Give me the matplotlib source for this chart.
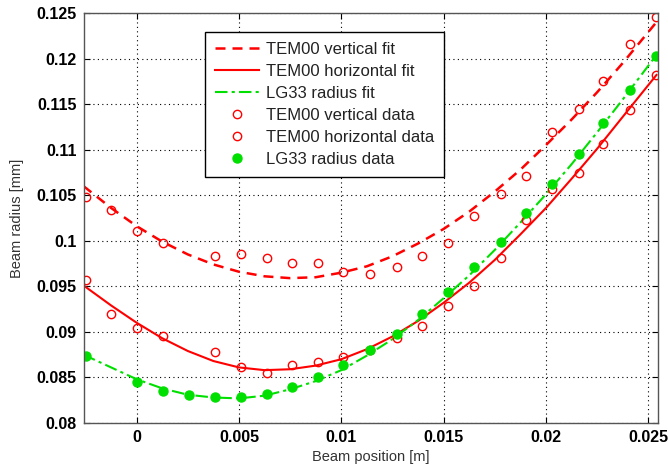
import matplotlib
matplotlib.use("Agg")
import matplotlib.pyplot as plt

plt.rcParams['font.family'] = ['Liberation Sans', 'DejaVu Sans']

# data points
x_vert = [-0.0025, -0.00125, 0.0, 0.00127, 0.00384, 0.0051, 0.00635, 0.0076, 0.00888, 0.0101,
          0.0114, 0.01273, 0.01395, 0.01519, 0.01647, 0.0178, 0.019, 0.0203, 0.0216, 0.0228, 0.0241, 0.0254]
y_vert = [0.1048, 0.1034, 0.1011, 0.0998, 0.0983, 0.0985, 0.0981, 0.0976, 0.0976, 0.0966,
          0.0964, 0.0971, 0.0983, 0.0998, 0.1027, 0.1051, 0.1071, 0.1119, 0.1145, 0.1175, 0.1216, 0.1246]

x_horz = [-0.0025, -0.00125, 0.0, 0.00127, 0.00384, 0.0051, 0.00635, 0.0076, 0.00888, 0.0101,
          0.0114, 0.01273, 0.01395, 0.01519, 0.01647, 0.0178, 0.019, 0.0203, 0.0216, 0.0228, 0.0241, 0.0254]
y_horz = [0.0957, 0.0920, 0.0904, 0.0895, 0.0878, 0.0861, 0.0855, 0.0864, 0.0867, 0.0872,
          0.0880, 0.0893, 0.0906, 0.0928, 0.0950, 0.0981, 0.1023, 0.1057, 0.1074, 0.1106, 0.1143, 0.1182]

x_lg = [-0.0025, 0.0, 0.00127, 0.00254, 0.00384, 0.0051, 0.00635, 0.0076, 0.00888, 0.0101,
        0.0114, 0.01273, 0.01395, 0.01519, 0.01647, 0.0178, 0.019, 0.0203, 0.0216, 0.0228, 0.0241, 0.0254]
y_lg = [0.0873, 0.0845, 0.0835, 0.0831, 0.0828, 0.0829, 0.0832, 0.0840, 0.0850, 0.0864,
        0.0880, 0.0898, 0.0920, 0.0944, 0.0971, 0.0999, 0.1030, 0.1062, 0.1095, 0.1129, 0.1165, 0.1203]

# fit curves
x_fit = [-0.0026, -0.00125, 0.0, 0.00125, 0.0025, 0.00375, 0.005, 0.00625, 0.0075, 0.00875, 0.01,
         0.01125, 0.0125, 0.01375, 0.015, 0.01625, 0.0175, 0.01875, 0.02, 0.02125, 0.0225, 0.02375, 0.0254]
y_vert_fit = [0.1060, 0.1036, 0.1016, 0.0999, 0.0985, 0.0974, 0.0966, 0.0961, 0.0959, 0.0960, 0.0965,
              0.0972, 0.0983, 0.0997, 0.1013, 0.1032, 0.1054, 0.1078, 0.1105, 0.1133, 0.1163, 0.1195, 0.1240]
y_horz_fit = [0.0951, 0.0929, 0.0910, 0.0893, 0.0879, 0.0868, 0.0861, 0.0858, 0.0859, 0.0863, 0.0870,
              0.0881, 0.0895, 0.0912, 0.0932, 0.0954, 0.0979, 0.1007, 0.1036, 0.1068, 0.1101, 0.1136, 0.1182]
y_lg_fit = [0.0875, 0.0861, 0.0848, 0.0838, 0.0831, 0.0828, 0.0827, 0.0830, 0.0837, 0.0846, 0.0858,
            0.0874, 0.0892, 0.0913, 0.0937, 0.0962, 0.0990, 0.1020, 0.1051, 0.1084, 0.1119, 0.1155, 0.1204]

x_ticks = [0, 0.005, 0.01, 0.015, 0.02, 0.025]
x_ticklabels = ['0', '0.005', '0.01', '0.015', '0.02', '0.025']
y_ticks = [0.08, 0.085, 0.09, 0.095, 0.1, 0.105, 0.11, 0.115, 0.12, 0.125]
y_ticklabels = ['0.08', '0.085', '0.09', '0.095', '0.1', '0.105', '0.11', '0.115', '0.12', '0.125']

RED = '#ff0000'
GREEN = '#00e000'

fig = plt.figure(figsize=(6.68, 4.72), dpi=100)
ax = fig.add_axes([83.5/668, 1 - 423/472, (657.7-83.5)/668, (423-13)/472])

ax.plot(x_fit, y_vert_fit, color=RED, ls=(0, (4, 2.8)), lw=1.8, label='TEM00 vertical fit')
ax.plot(x_fit, y_horz_fit, color=RED, ls='-', lw=1.5, label='TEM00 horizontal fit')
ax.plot(x_fit, y_lg_fit, color=GREEN, ls=(0, (6, 2, 1.5, 2)), lw=1.5, label='LG33 radius fit')
ax.plot(x_vert, y_vert, ls='none', marker='o', mfc='none', mec=RED, ms=6, mew=1.0, label='TEM00 vertical data')
ax.plot(x_horz, y_horz, ls='none', marker='o', mfc='none', mec=RED, ms=6, mew=1.0, label='TEM00 horizontal data')
ax.plot(x_lg, y_lg, ls='none', marker='o', mfc=GREEN, mec=GREEN, ms=6.5, label='LG33 radius data')

ax.set_xlim(-0.0026, 0.02546)
ax.set_ylim(0.08, 0.125)
ax.set_xticks(x_ticks)
ax.set_xticklabels(x_ticklabels, fontweight='bold', fontsize=11.5)
ax.set_yticks(y_ticks)
ax.set_yticklabels(y_ticklabels, fontweight='bold', fontsize=11.5)
ax.tick_params(direction='in', top=True, right=True, length=4, width=0.8, pad=5)
ax.grid(True, color='black', ls=(0, (1, 3)), lw=0.8)
for s in ax.spines.values():
    s.set_linewidth(1.0)
    s.set_color('#555555')

ax.set_xlabel('Beam position [m]', fontsize=10.5, color='#333333', labelpad=4)
ax.set_ylabel('Beam radius [mm]', fontsize=10.5, color='#333333', labelpad=9)

leg = ax.legend(loc='upper left', bbox_to_anchor=(0.212, 0.954), borderaxespad=0,
                fontsize=12, frameon=True, fancybox=False, framealpha=1,
                edgecolor='black', handlelength=2.65, handletextpad=0.4,
                labelspacing=0.42, borderpad=0.6)
leg.get_frame().set_linewidth(1.0)
for t in leg.get_texts():
    t.set_color('#222222')

fig.savefig('out.png', dpi=100)
